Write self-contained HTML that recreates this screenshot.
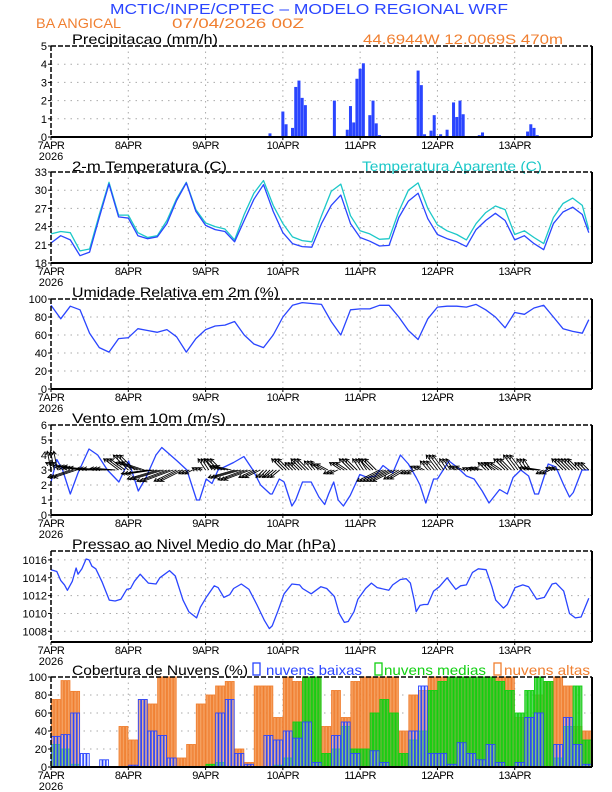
<!DOCTYPE html>
<html><head><meta charset="utf-8"><title>Meteograma WRF</title>
<style>
html,body{margin:0;padding:0;background:#fff;}
svg{display:block;font-family:"Liberation Sans",sans-serif;}
</style></head>
<body>
<svg id="chart" width="612" height="792" viewBox="0 0 612 792" xmlns="http://www.w3.org/2000/svg">
<text x="110" y="14" textLength="398" lengthAdjust="spacingAndGlyphs" font-size="15" fill="#2a45ff">MCTIC/INPE/CPTEC – MODELO REGIONAL WRF</text>
<text x="36" y="28" textLength="85" lengthAdjust="spacingAndGlyphs" font-size="14" fill="#f07f30">BA ANGICAL</text>
<text x="172" y="28" textLength="132" lengthAdjust="spacingAndGlyphs" font-size="14" fill="#f07f30">07/04/2026 00Z</text>
<text x="363" y="44" textLength="200" lengthAdjust="spacingAndGlyphs" font-size="14" fill="#f07f30">44.6944W 12.0069S 470m</text>
<text x="72" y="44" textLength="146" lengthAdjust="spacingAndGlyphs" font-size="14" fill="#000">Precipitacao (mm/h)</text>
<text x="72" y="171" textLength="155" lengthAdjust="spacingAndGlyphs" font-size="14" fill="#000">2-m Temperatura (C)</text>
<text x="362" y="171" textLength="180" lengthAdjust="spacingAndGlyphs" font-size="14" fill="#1cc8c8">Temperatura Aparente (C)</text>
<text x="72" y="297" textLength="207" lengthAdjust="spacingAndGlyphs" font-size="14" fill="#000">Umidade Relativa em 2m (%)</text>
<text x="72" y="423" textLength="154" lengthAdjust="spacingAndGlyphs" font-size="14" fill="#000">Vento em 10m (m/s)</text>
<text x="72" y="549" textLength="264" lengthAdjust="spacingAndGlyphs" font-size="14" fill="#000">Pressao ao Nivel Medio do Mar (hPa)</text>
<text x="72" y="675" textLength="176" lengthAdjust="spacingAndGlyphs" font-size="14" fill="#000">Cobertura de Nuvens (%)</text>
<g>
<rect x="253" y="663" width="7" height="12" fill="none" stroke="#2a45ff" stroke-width="1.3"/>
<text x="266" y="675" textLength="96" lengthAdjust="spacingAndGlyphs" font-size="14" fill="#2a45ff">nuvens baixas</text>
<rect x="375" y="663" width="7" height="12" fill="none" stroke="#10d010" stroke-width="1.3"/>
<text x="384" y="675" textLength="102" lengthAdjust="spacingAndGlyphs" font-size="14" fill="#10d010">nuvens medias</text>
<rect x="494" y="663" width="7" height="12" fill="none" stroke="#f07f30" stroke-width="1.3"/>
<text x="504" y="675" textLength="86" lengthAdjust="spacingAndGlyphs" font-size="14" fill="#f07f30">nuvens altas</text>
</g>
</svg>
<script>
// ---- data ----
const dayLabels = ["7APR","8APR","9APR","10APR","11APR","12APR","13APR"];
const precipHours = [15,18,19,68,71,72,73,75,76,77,78,79,88,92,93,94,95,96,97,99,100,101,102,113,114,115,116,118,119,121,123,125,126,127,128,133,134,135,148,149,150,151,157,164];
const precipVals  = [0.05,0.03,0.03,0.2,0.05,1.4,0.7,0.5,2.75,3.1,2.15,1.75,2.0,0.4,1.7,0.8,3.2,3.75,4.05,1.2,2.0,0.75,0.1,0.03,3.65,2.85,0.15,0.35,1.2,0.15,0.4,1.9,1.1,2.0,1.25,0.1,0.25,0.05,0.3,0.7,0.5,0.1,0.03,0.05];
const precipTicks = [0,1,2,3,4,5];

const tempHours = [0,3,6,9,12,15,18,21,24,27,30,33,36,39,42,45,48,51,54,57,60,63,66,69,72,75,78,81,84,87,90,93,96,99,102,105,108,111,114,117,120,123,126,129,132,135,138,141,144,147,150,153,156,159,162,165,167];
const tempVals = [21.3,22.5,21.8,19.2,19.8,25.5,31.0,25.6, 25.4,22.5,22.0,22.3,24.5,28.3,31.2,26.5, 24.2,23.5,23.2,21.5,25.0,28.5,30.9,26.5, 23.0,21.2,20.7,20.6,24.5,27.5,29.2,24.5, 22.2,21.6,20.8,20.9,25.5,28.2,29.5,25.3, 22.7,22.0,21.5,20.7,23.5,25.0,26.2,25.0, 21.8,22.5,21.2,20.2,24.5,26.4,27.2,26.0,23.0];
const apparentVals = [22.8,23.2,23.0,20.0,20.3,26.0,31.3,25.9, 25.9,23.0,22.2,22.5,25.0,28.6,31.3,26.8, 24.6,24.0,23.6,21.8,26.0,29.5,31.6,27.5, 24.5,22.3,21.7,21.5,25.8,29.8,31.0,25.8, 23.3,22.8,21.9,22.0,26.5,30.0,31.2,27.0, 24.3,23.3,22.7,21.8,24.5,26.3,27.4,26.8, 22.7,23.3,22.2,21.2,25.5,27.8,28.7,27.5,23.5];
const tempTicks = [18,21,24,27,30,33];

const rhVals = [93,78,92,88,62,46,41,56, 57,67,65,63,66,58,41,56, 66,70,71,75,60,50,46,60, 80,93,96,95,94,75,60,88, 89,89,93,93,80,65,55,78, 91,92,92,91,94,88,80,68, 85,83,90,93,80,67,64,62,77];
const rhTicks = [0,20,40,60,80,100];

const windHours = [0,1.8,3.6,6.0,8.4,11.8,14.5,17.5,21.1,24.1,27.1,29.5,32.6,34.4,39.2,42.2,45.2,46.1,48.2,50.0,51.9,56.7,59.9,62.7,65.1,68.1,68.7,70.9,72.4,74.8,76.0,78.1,80.8,83.2,85.0,86.2,87.8,89.2,90.8,92.9,95.9,98.3,100.7,103.1,106.1,108.5,111.0,113.4,114.6,116.4,117.6,118.8,120.0,123.6,126.0,129.0,131.4,133.9,136.0,139.3,141.7,143.5,145.9,148.3,150.2,151.4,154.4,156.8,159.2,161.0,162.2,164.9,167];
const windSpeed = [2.2,3.7,3.0,1.4,2.8,4.4,4.0,3.0,2.2,3.6,1.6,2.5,4.0,4.5,3.6,3.0,1.0,1.0,2.4,2.1,3.0,3.5,3.9,3.0,2.0,1.4,1.4,2.4,2.2,0.6,1.0,2.2,2.2,1.2,0.7,1.4,2.2,1.0,0.6,1.3,2.7,2.5,2.6,3.3,2.8,4.0,3.4,2.5,2.0,0.8,1.6,2.4,2.4,3.6,3.2,2.6,2.4,1.6,0.8,1.7,1.4,2.5,3.0,2.6,1.4,1.4,3.4,3.2,2.0,1.2,1.5,3.0,3.0];
const windU = [-0.5,-2,-3,-3,-3.5,-3,-2.5,-2, -2,-3,-3.5,-4,-4,-3,-1,-0.5, -1,-1.5,-2,-3.5,-3.5,-2,-1,-1.2, -1.5,-1,-1.5,-1,-1.5,-1,-1.5,-1.5, -1,-1.5,-3,-3,-2,-1,-1,-1, -1.5,-1,-1,-0.5,-1,-1,-1.5,-1.5, -1.5,-1,-2,-1,-1,-1.5,-1.5,-1];
const windV = [2.5,1,-1,0.5,0.3,0.2,0.2,1.5, 2,1,-0.5,-1.2,-1.5,-1.5,-0.5,0.3, 1.5,1.5,0.5,-1,-1.3,-1,-1,-1, 1.5,1,1.5,1.2,0.8,-0.5,1,1.5, 1.5,1.5,-1.5,-1.5,-1.2,-0.5,0.5,1.2, 2,1.5,0.5,0.3,0.3,1,1,1.5, 2,1.5,0.3,-0.5,0.3,1.5,1.5,1];
const windTicks = [0,1,2,3,4,5,6];

const presHours = [0,1.8,3.0,4.2,5.1,6.6,7.8,8.4,9.6,10.9,11.8,12.7,13.9,15.9,18.1,19.9,21.7,23.5,24.7,25.9,27.7,30.2,32.6,33.8,36.8,38.6,41.0,42.8,45.2,46.4,48.2,50.7,51.9,53.7,55.5,56.7,59.1,61.5,63.9,66.3,67.8,68.7,70.5,72.4,74.8,77.2,78.1,80.8,83.8,85.6,88.0,89.5,91.1,92.3,94.1,95.3,97.7,99.5,101.3,104.9,106.1,108.5,110.3,111.6,112.8,113.4,114.6,115.8,117.0,118.8,120.6,123.0,124.2,125.7,127.2,129.0,130.9,132.7,135.1,136.9,138.1,140.5,141.7,144.1,146.5,148.3,150.8,153.2,155.6,156.8,159.2,161.0,162.8,164.6,167];
const presVals = [1014.9,1014.7,1013.7,1013.2,1012.6,1013.6,1015.1,1014.4,1015.0,1016.1,1016.0,1015.3,1015.0,1013.5,1011.5,1011.4,1011.6,1012.7,1012.8,1013.6,1014.4,1013.4,1013.3,1014.0,1014.8,1014.2,1011.5,1010.2,1009.5,1010.7,1011.8,1013.1,1012.9,1011.8,1012.1,1012.8,1013.3,1012.7,1011.0,1009.2,1008.3,1008.6,1010.3,1012.2,1013.3,1013.2,1012.8,1012.2,1013.0,1012.8,1011.9,1010.0,1009.0,1009.1,1010.2,1011.6,1012.8,1013.4,1012.9,1012.6,1013.2,1013.8,1013.9,1013.4,1011.5,1010.2,1010.9,1011.0,1011.0,1012.5,1013.0,1014.0,1013.4,1012.7,1013.1,1013.2,1014.6,1015.0,1014.9,1013.0,1011.5,1010.6,1011.0,1012.9,1013.2,1013.0,1011.6,1011.8,1013.3,1013.4,1012.5,1010.0,1009.5,1009.6,1011.7];
const presTicks = [1008,1010,1012,1014,1016];

const cloudHigh = [75,96,84,0,0,0,0,45, 30,75,70,100,100,10,25,70, 80,90,95,20,5,90,90,55, 100,95,100,100,45,85,55,95, 100,100,100,100,40,80,85,100, 100,100,100,100,100,100,100,100, 55,55,80,95,100,90,45,40];
const cloudMid = [25,20,3,0,0,0,0,0, 0,0,0,0,0,0,0,0, 3,5,0,0,0,0,0,2, 10,50,100,100,15,20,45,20, 20,60,75,60,15,30,40,85, 95,100,100,100,100,100,95,85, 60,85,100,95,10,45,90,30];
const cloudLow = [34,36,60,15,0,8,0,0, 2,75,40,35,10,0,0,0, 0,60,75,15,3,0,35,30, 40,32,50,5,0,35,50,15, 0,18,5,0,0,40,90,15, 15,3,27,15,8,25,5,0, 5,55,60,0,25,55,25,3];
const cloudTicks = [0,20,40,60,80,100];

// ---- layout ----
const NS = "http://www.w3.org/2000/svg";
const svg = document.getElementById("chart");
const X0 = 51, X1 = 592, HOURS = 168;
const xs = h => X0 + h / HOURS * (X1 - X0);
function mk(tag, attrs, parent) {
  const e = document.createElementNS(NS, tag);
  for (const k in attrs) e.setAttribute(k, attrs[k]);
  (parent || svg).appendChild(e);
  return e;
}
function yScale(p) { return v => p.bottom - (v - p.min) / (p.max - p.min) * (p.bottom - p.top); }

function panel(p, name, ticks) {
  const g = mk("g", {});
  
  
  const y = yScale(p);
  ticks.forEach(t => {
    const yy = y(t);
    if (yy > p.top + 1 && yy < p.bottom - 1) {
      const l = mk("line", {x1: X0, x2: X1, y1: yy, y2: yy, stroke: "#aaa", "stroke-width": 1, "stroke-dasharray": "1.5 5"}, g);
      
      
    }
    const tl = mk("text", {x: X0 - 4, y: yy + 4, "text-anchor": "end", "font-size": 11, fill: "#000"}, g);
    tl.textContent = t;
    
    
    mk("line", {x1: X0 - 3, x2: X0, y1: yy, y2: yy, stroke: "#000"}, g);
  });
  dayLabels.forEach((d, i) => {
    const xx = xs(i * 24);
    if (i > 0) {
      const l = mk("line", {x1: xx, x2: xx, y1: p.top, y2: p.bottom, stroke: "#aaa", "stroke-width": 1, "stroke-dasharray": "1.5 4"}, g);
      
      
    }
    mk("line", {x1: xx, x2: xx, y1: p.bottom, y2: p.bottom + 3, stroke: "#000"}, g);
    const tl = mk("text", {x: xx, y: p.bottom + 12, "text-anchor": "middle", "font-size": 11, fill: "#000", "letter-spacing": "-0.5"}, g);
    tl.textContent = d;
    
    
  });
  const yr = mk("text", {x: X0, y: p.bottom + 23, "text-anchor": "middle", "font-size": 11, fill: "#000"}, g);
  yr.textContent = "2026";
  
  
  return {g, y};
}
function frame(p, name) {
  const f = mk("g", {});
  
  
  mk("line", {x1: X0, x2: X1, y1: p.top, y2: p.top, stroke: "#000", "stroke-width": 1.5, "stroke-dasharray": "5 2"}, f);
  mk("line", {x1: X0, x2: X0, y1: p.top, y2: p.bottom, stroke: "#000", "stroke-width": 1.5, "stroke-dasharray": "5 2"}, f);
  mk("line", {x1: X1, x2: X1, y1: p.top, y2: p.bottom, stroke: "#000", "stroke-width": 2}, f);
  mk("line", {x1: X0, x2: X1, y1: p.bottom, y2: p.bottom, stroke: "#000", "stroke-width": 2}, f);
}
function line(hours, vals, y, color, name, g) {
  const d = hours.map((h, i) => (i ? "L" : "M") + xs(h).toFixed(1) + " " + y(vals[i]).toFixed(1)).join(" ");
  const pth = mk("path", {d, fill: "none", stroke: color, "stroke-width": 1.3, "stroke-linejoin": "round"}, g);
  
  
}

// precip
const P1 = {top: 46, bottom: 137, min: 0, max: 5};
let r = panel(P1, "precip", precipTicks);
precipHours.forEach((h, i) => {
  const yy = r.y(precipVals[i]);
  const b = mk("rect", {x: xs(h) - 1.5, y: yy, width: 3, height: Math.max(P1.bottom - yy, 0.8), fill: "#2a45ff"}, r.g);
  
  
});
frame(P1, "precip");

// temperature
const P2 = {top: 172, bottom: 263, min: 18, max: 33};
r = panel(P2, "temp", tempTicks);
line(tempHours, apparentVals, r.y, "#1cc8c8", "apparent-temp-line", r.g);
line(tempHours, tempVals, r.y, "#2a45ff", "temp-line", r.g);
frame(P2, "temp");

// humidity
const P3 = {top: 299, bottom: 389, min: 0, max: 100};
r = panel(P3, "humidity", rhTicks);
line(tempHours, rhVals, r.y, "#2a45ff", "humidity-line", r.g);
frame(P3, "humidity");

// wind
const P4 = {top: 425, bottom: 515, min: 0, max: 6};
r = panel(P4, "wind", windTicks);
line(windHours, windSpeed, r.y, "#2a45ff", "wind-speed-line", r.g);
const base = r.y(3);
const AS = 7.5;
windU.forEach((u, i) => {
  const v = windV[i];
  for (let k = 0; k < 3; k++) {
    const x0 = xs(i * 3 + k);
    const x1 = x0 + u * AS, y1 = base - v * AS;
    const len = Math.hypot(x1 - x0, y1 - base) || 1;
    const ux = (x1 - x0) / len, uy = (y1 - base) / len;
    const hx1 = x1 - ux * 3.5 - uy * 2, hy1 = y1 - uy * 3.5 + ux * 2;
    const hx2 = x1 - ux * 3.5 + uy * 2, hy2 = y1 - uy * 3.5 - ux * 2;
    const a = mk("path", {d: `M${x0} ${base} L${x1} ${y1} M${hx1} ${hy1} L${x1} ${y1} L${hx2} ${hy2}`, stroke: "#000", "stroke-width": 0.9, fill: "none"}, r.g);
    
    
  }
});
frame(P4, "wind");

// pressure
const P5 = {top: 551, bottom: 642, min: 1006.8, max: 1017.0};
r = panel(P5, "pressure", presTicks);
line(presHours, presVals, r.y, "#2a45ff", "pressure-line", r.g);
frame(P5, "pressure");

// clouds
const P6 = {top: 677, bottom: 767, min: 0, max: 100};
r = panel(P6, "cloud", cloudTicks);
function cbars(vals, fill, stroke, name) {
  vals.forEach((v, i) => {
    if (v <= 0) return;
    const yy = r.y(v);
    for (let k = 0; k < 3; k++) {
      const x = xs(i * 3 + k) + 0.4, w = xs(1) - X0 - 0.8;
      const b = mk("rect", {x, y: yy, width: w, height: P6.bottom - yy, fill, stroke, "stroke-width": 0.9}, r.g);
      
      
    }
  });
}
cbars(cloudHigh, "#f5a060", "#f07f30", "cloud-high-bar");
cbars(cloudMid, "rgba(40,200,40,0.75)", "#10d010", "cloud-mid-bar");
cbars(cloudLow, "rgba(210,220,255,0.3)", "#2a45ff", "cloud-low-bar");
frame(P6, "cloud");
</script>
</body></html>
